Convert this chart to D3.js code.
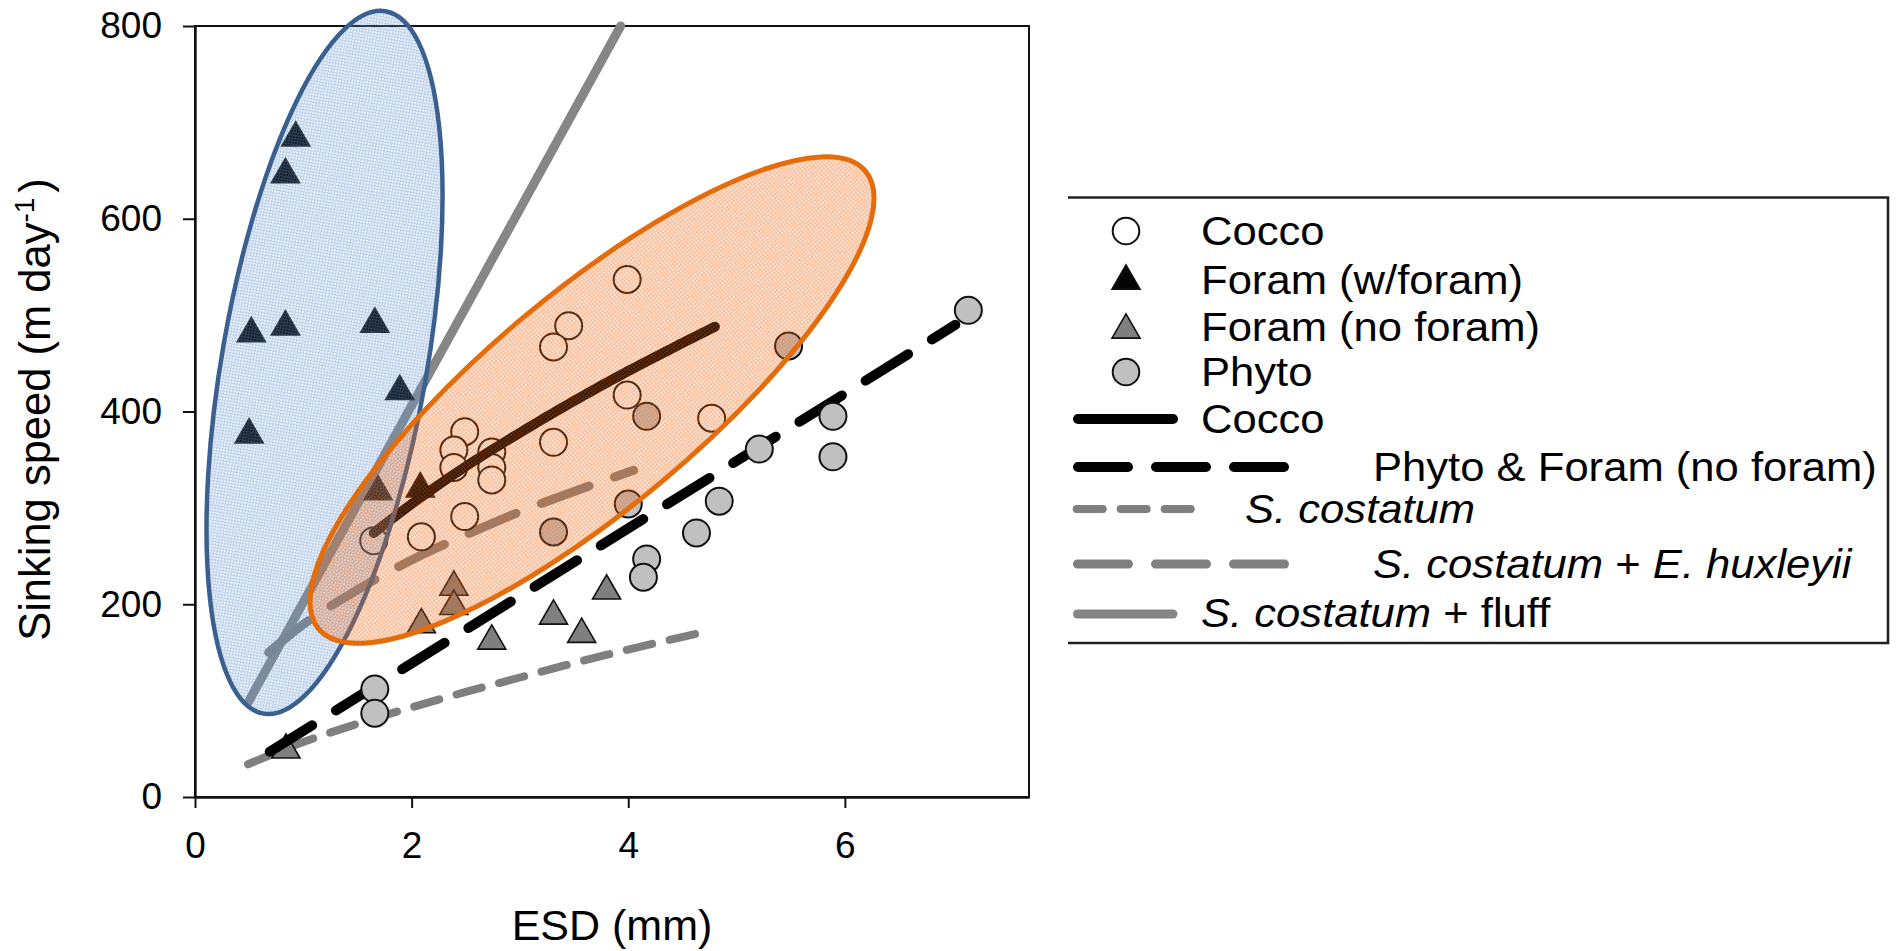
<!DOCTYPE html>
<html>
<head>
<meta charset="utf-8">
<script src="https://cdn.jsdelivr.net/npm/d3@7"></script>
<style>
  html, body { margin: 0; padding: 0; background: #fff; }
  svg { display: block; font-family: "Liberation Sans", Arial, sans-serif; }
</style>
</head>
<body>
<svg id="chart" width="1898" height="951"></svg>
<script>
// ---- Measured particles: ESD (mm) vs sinking speed (m/day) ----
const coccoX = [3.99, 3.45, 3.31, 3.31, 3.99, 4.77, 2.49, 2.39, 2.39, 2.74, 2.74, 2.74, 2.49, 2.09, 1.65];
const coccoY = [537, 489, 467, 368, 417, 393, 379, 360, 342, 358, 342, 329, 291, 270, 266];

const foramWithX = [0.93, 0.835, 0.52, 0.835, 1.66, 1.89, 0.50, 2.08, 1.69];
const foramWithY = [688, 650, 485, 492, 495, 425, 380, 324, 321];

const foramNoX = [2.09, 2.39, 2.39, 2.74, 3.31, 3.57, 3.80, 0.84];
const foramNoY = [183, 222, 202, 166, 192, 173, 218, 53];

const phytoX = [7.14, 5.89, 5.89, 5.21, 4.84, 4.63, 4.17, 4.14, 1.66, 1.66, 5.48, 4.17, 4.00, 3.31];
const phytoY = [505, 395, 353, 361, 307, 274, 247, 228, 112, 87, 468, 395, 304, 275];

// ---- Fitted relationships ----
const coccoFitX = [1.65, 2.0, 2.5, 3.0, 3.5, 4.0, 4.5, 4.8];
const coccoFitY = [274, 304, 343, 378, 411, 442, 471, 488];

const phytoForamFitX = [0.69, 7.02];
const phytoForamFitY = [47, 490];

const skelFitX = [0.49, 1.0, 1.5, 2.0, 2.5, 3.0, 3.5, 4.0, 4.73];
const skelFitY = [34, 57, 76, 93, 109, 124, 139, 153, 172];

const skelEhuxFitX = [0.68, 1.0, 1.5, 2.0, 2.5, 3.0, 3.5, 4.05];
const skelEhuxFitY = [150, 179, 215, 246, 272, 296, 317, 339];

const skelFluffFitX = [0.49, 3.93];
const skelFluffFitY = [98, 800];

// ---- Axes ----
const xTicks = [0, 2, 4, 6];
const yTicks = [0, 200, 400, 600, 800];
const xDomain = [0, 7.7];
const yDomain = [0, 800];

// ---- Grouping ellipses: major-axis end points in data units ----
const foramEllipseEnds = [[0.632, 86.5], [1.760, 815.3]];
const coccoEllipseEnds = [[1.141, 174.4], [6.190, 649.4]];

// ---- Legend ----
const legendMarkerLabels = ["Cocco", "Foram (w/foram)", "Foram (no foram)", "Phyto"];
const legendLineLabels = [
  [["Cocco", false]],
  [["Phyto & Foram (no foram)", false]],
  [["S. costatum", true]],
  [["S. costatum", true], [" + ", false], ["E. huxleyii", true]],
  [["S. costatum", true], [" + fluff", false]]
];

// ---------------------------------------------------------------
const svg = d3.select("#chart");
const W = 1898, H = 951;
const x = d3.scaleLinear().domain(xDomain).range([195, 1029]);
const y = d3.scaleLinear().domain(yDomain).range([797, 26]);

const defs = svg.append("defs");
function stipple(id, base, dot) {
  const p = defs.append("pattern").attr("id", id)
    .attr("patternUnits", "userSpaceOnUse").attr("width", 3).attr("height", 3);
  p.append("rect").attr("width", 3).attr("height", 3).attr("fill", base);
  p.append("rect").attr("width", 3).attr("height", 1).attr("fill", dot);
  p.append("rect").attr("x", 1).attr("y", 1).attr("width", 1).attr("height", 2).attr("fill", dot);
}
stipple("fillBlue", "rgba(115,160,215,0.17)", "rgba(95,140,200,0.29)");
stipple("fillOrange", "rgba(242,110,25,0.18)", "rgba(236,100,20,0.30)");

svg.append("rect").attr("width", W).attr("height", H).attr("fill", "#fff");

// frame
svg.append("rect")
  .attr("x", x(xDomain[0])).attr("y", y(yDomain[1]))
  .attr("width", x(xDomain[1]) - x(xDomain[0]))
  .attr("height", y(yDomain[0]) - y(yDomain[1]))
  .attr("fill", "none").attr("stroke", "#111").attr("stroke-width", 2);

// axes
const gx = svg.append("g")
  .attr("transform", `translate(0,${y(0)})`)
  .call(d3.axisBottom(x).tickValues(xTicks).tickFormat(d3.format("d"))
    .tickSize(11).tickPadding(24).tickSizeOuter(0));
const gy = svg.append("g")
  .attr("transform", `translate(${x(0)},0)`)
  .call(d3.axisLeft(y).tickValues(yTicks).tickFormat(d3.format("d"))
    .tickSize(12).tickPadding(21).tickSizeOuter(0));
[gx, gy].forEach(g => {
  g.attr("font-family", null).attr("font-size", null);
  g.select(".domain").attr("stroke", "#111").attr("stroke-width", 2.4);
  g.selectAll(".tick line").attr("stroke", "#111").attr("stroke-width", 2);
  g.selectAll(".tick text").attr("fill", "#000").attr("font-size", 37);
});

// axis titles
svg.append("text")
  .attr("x", (x(xDomain[0]) + x(xDomain[1])) / 2).attr("y", 940)
  .attr("text-anchor", "middle").attr("font-size", 43).text("ESD (mm)");

const yt = svg.append("text")
  .attr("transform", `translate(50,${(y(yDomain[0]) + y(yDomain[1])) / 2 - 2}) rotate(-90)`)
  .attr("text-anchor", "middle").attr("font-size", 43.5);
yt.append("tspan").text("Sinking speed (m day");
yt.append("tspan").attr("font-size", 28).attr("dy", -16).text("-1");
yt.append("tspan").attr("dy", 16).attr("dx", 5).text(")");

// line helpers
const toPts = (xs, ys) => xs.map((v, i) => [v, ys[i]]);
const line = d3.line().x(d => x(d[0])).y(d => y(d[1])).curve(d3.curveMonotoneX);

const styles = {
  cocco:      { stroke: "#000",    width: 10, dash: null },
  phytoForam: { stroke: "#000",    width: 10, dash: "50,28" },
  skel:       { stroke: "#7f7f7f", width: 8,  dash: "26,18" },
  skelEhux:   { stroke: "#808080", width: 9,  dash: "51,27" },
  skelFluff:  { stroke: "#868686", width: 9,  dash: null }
};
function drawFit(xs, ys, st) {
  svg.append("path").datum(toPts(xs, ys))
    .attr("d", line).attr("fill", "none")
    .attr("stroke", st.stroke).attr("stroke-width", st.width)
    .attr("stroke-linecap", "round")
    .attr("stroke-dasharray", st.dash);
}

// markers
const triSize = 340;
const tri = d3.symbol().type(d3.symbolTriangle).size(triSize);
const triShift = Math.sqrt(triSize / (Math.sqrt(3) * 3)) / 2;

function drawCircles(xs, ys, fill) {
  svg.append("g").selectAll("circle").data(toPts(xs, ys)).join("circle")
    .attr("cx", d => x(d[0])).attr("cy", d => y(d[1])).attr("r", 13.5)
    .attr("fill", fill).attr("stroke", "#111").attr("stroke-width", 2);
}
function drawTriangles(xs, ys, fill) {
  svg.append("g").selectAll("path").data(toPts(xs, ys)).join("path")
    .attr("d", tri)
    .attr("transform", d => `translate(${x(d[0])},${y(d[1]) + triShift})`)
    .attr("fill", fill).attr("stroke", "#111").attr("stroke-width", 1.6);
}

drawFit(skelFluffFitX, skelFluffFitY, styles.skelFluff);
drawFit(skelFitX, skelFitY, styles.skel);
drawFit(skelEhuxFitX, skelEhuxFitY, styles.skelEhux);
drawTriangles(foramNoX, foramNoY, "#7f7f7f");
drawFit(phytoForamFitX, phytoForamFitY, styles.phytoForam);
drawCircles(phytoX, phytoY, "#c0c0c0");
drawTriangles(foramWithX, foramWithY, "#050505");
drawCircles(coccoX, coccoY, "#fff");
drawFit(coccoFitX, coccoFitY, styles.cocco);

// grouping ellipses
function drawEllipse(ends, minor, fill, stroke, sw) {
  const p0 = [x(ends[0][0]), y(ends[0][1])];
  const p1 = [x(ends[1][0]), y(ends[1][1])];
  const cx = (p0[0] + p1[0]) / 2, cy = (p0[1] + p1[1]) / 2;
  const dx = p1[0] - p0[0], dy = p1[1] - p0[1];
  const major = Math.hypot(dx, dy) / 2;
  const ang = Math.atan2(dx, -dy) * 180 / Math.PI;
  svg.append("ellipse")
    .attr("transform", `translate(${cx},${cy}) rotate(${ang})`)
    .attr("rx", minor).attr("ry", major)
    .attr("fill", fill).attr("stroke", stroke).attr("stroke-width", sw);
}
drawEllipse(foramEllipseEnds, 102.5, "url(#fillBlue)", "#3b6090", 4.5);
drawEllipse(coccoEllipseEnds, 107.4, "url(#fillOrange)", "#e46c0a", 5);

// ---- legend ----
const lg = svg.append("g");
lg.append("path")
  .attr("d", "M1068,197.5H1888V643H1068")
  .attr("fill", "none").attr("stroke", "#222").attr("stroke-width", 2.6);

const legendFont = 40, legendStretch = 1.09;
function legendText(tx, ty) {
  return lg.append("text")
    .attr("transform", `translate(${tx},${ty}) scale(${legendStretch},1)`)
    .attr("font-size", legendFont);
}

const markerRowY = [231, 277, 326, 372];
const markerBase = [245, 294, 341, 386];
const mk = lg.append("g");
mk.append("circle").attr("cx", 1126).attr("cy", markerRowY[0]).attr("r", 13.3)
  .attr("fill", "#fff").attr("stroke", "#111").attr("stroke-width", 2);
mk.append("path").attr("d", tri).attr("transform", `translate(1126,${markerRowY[1] + triShift})`)
  .attr("fill", "#050505").attr("stroke", "#111").attr("stroke-width", 1.6);
mk.append("path").attr("d", tri).attr("transform", `translate(1126,${markerRowY[2] + triShift})`)
  .attr("fill", "#7f7f7f").attr("stroke", "#111").attr("stroke-width", 1.6);
mk.append("circle").attr("cx", 1126).attr("cy", markerRowY[3]).attr("r", 13.3)
  .attr("fill", "#c0c0c0").attr("stroke", "#111").attr("stroke-width", 2);
legendMarkerLabels.forEach((t, i) => {
  legendText(1201, markerBase[i]).text(t);
});

const lineRows = [
  { st: styles.cocco,      y: 419, x0: 1078,   x1: 1173,   tx: 1201, ty: 433 },
  { st: styles.phytoForam, y: 467, x0: 1078,   x1: 1284,   tx: 1373, ty: 481 },
  { st: styles.skel,       y: 509, x0: 1076.7, x1: 1191,   tx: 1245, ty: 523 },
  { st: styles.skelEhux,   y: 564, x0: 1077.5, x1: 1284.5, tx: 1373, ty: 578 },
  { st: styles.skelFluff,  y: 614, x0: 1077.5, x1: 1173,   tx: 1201, ty: 627 }
];
lineRows.forEach((r, i) => {
  lg.append("line").attr("x1", r.x0).attr("x2", r.x1).attr("y1", r.y).attr("y2", r.y)
    .attr("stroke", r.st.stroke).attr("stroke-width", r.st.width)
    .attr("stroke-linecap", "round").attr("stroke-dasharray", r.st.dash);
  const t = legendText(r.tx, r.ty);
  legendLineLabels[i].forEach(([s, it]) => {
    t.append("tspan").attr("font-style", it ? "italic" : "normal").text(s);
  });
});
</script>
</body>
</html>
